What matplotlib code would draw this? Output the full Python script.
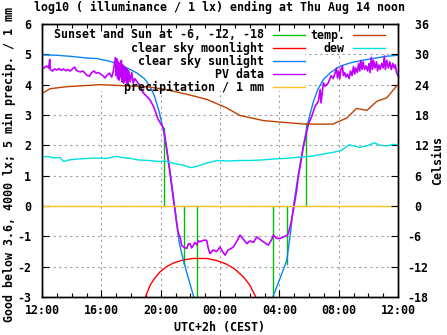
import matplotlib
matplotlib.use('Agg')
import matplotlib.pyplot as plt
from matplotlib.lines import Line2D
from matplotlib.patches import Rectangle
from matplotlib.ticker import FixedLocator, MultipleLocator

W, H = 447, 335
MONO = dict(family='DejaVu Sans Mono', weight='bold', size=8.4)

# hours after Wednesday noon
hour_ticks = [0, 4, 8, 12, 16, 20, 24]
hour_labels = ['12:00', '16:00', '20:00', '00:00', '04:00', '08:00', '12:00']

# clear sky sunlight, log10 lx
sun_h = [0, 1, 2, 3, 3.69, 4.5, 5.03, 5.7, 6.38, 6.9, 7.28, 7.6, 7.9, 8.18, 8.4,
         8.6, 8.86, 9.05, 9.26, 9.53, 9.85, 10.2, 10.3,
         15.5, 15.6, 16.0, 16.5, 16.75, 16.95, 17.3, 17.62, 17.95, 18.3, 18.6,
         18.97, 19.5, 20.1, 20.8, 21.67, 22.5, 23.3, 24]
sun_v = [4.98, 4.97, 4.93, 4.88, 4.86, 4.78, 4.70, 4.56, 4.39, 4.20, 3.95, 3.60,
         3.10, 2.52, 1.90, 1.25, 0.31, -0.45, -1.23, -1.79, -2.35, -2.95, -3.1,
         -3.1, -2.95, -2.45, -1.79, -0.9, 0.0, 1.1, 2.0, 2.8, 3.45, 3.85,
         4.17, 4.42, 4.61, 4.72, 4.81, 4.88, 4.94, 4.97]

# clear sky moonlight
moon_h = [6.95, 7.06, 7.3, 7.6, 7.96, 8.4, 8.86, 9.5, 10.2, 11.1, 11.8, 12.45,
          13.0, 13.58, 14.0, 14.36, 14.45]
moon_v = [-3.05, -2.89, -2.6, -2.38, -2.17, -2.0, -1.88, -1.78, -1.73, -1.73,
          -1.80, -1.92, -2.08, -2.34, -2.6, -2.95, -3.05]

# sunset and sun at -6, -12, -18 deg
twilight_h = [8.25, 9.6, 10.47, 15.6, 16.5, 17.78]
twilight_v = [2.57, -1.95, -3.5, -3.5, -1.9, 2.74]

# PV sensor
pv_h = [0.00, 0.15, 0.30, 0.45, 0.52, 0.56, 0.70, 0.85, 1.00, 1.15, 1.30, 1.45,
        1.60, 1.75, 1.90, 2.05, 2.20, 2.30, 2.45, 2.60, 2.75, 2.90, 3.05, 3.20,
        3.35, 3.50, 3.65, 3.80, 3.95, 4.10, 4.25, 4.40, 4.55, 4.70, 4.80,
        4.95, 5.00, 5.05, 5.10, 5.15, 5.20, 5.25, 5.30, 5.35, 5.40, 5.45, 5.50,
        5.55, 5.60, 5.65, 5.70, 5.75, 5.80, 5.85, 5.95, 6.05, 6.15, 6.25, 6.40,
        6.55, 6.83, 7.28, 7.51, 7.84, 8.18, 8.29, 8.41, 8.52, 8.63, 8.75, 8.86,
        8.97, 9.08, 9.19, 9.31, 9.42, 9.53, 9.76, 9.87, 9.98, 10.09, 10.2,
        10.31, 10.43, 10.54, 10.65, 10.86, 11.1, 11.21, 11.33, 11.53, 11.78,
        12.0, 12.14, 12.34, 12.54, 12.75, 12.9, 13.12, 13.35, 13.58, 13.81,
        14.03, 14.25, 14.48, 14.7, 14.92, 15.26, 15.49, 15.6, 15.83, 16.05,
        16.27, 16.5, 16.61, 16.79, 16.95, 17.17, 17.28, 17.4, 17.62, 17.73,
        17.96, 18.19, 18.41, 18.63, 18.75, 18.81, 18.97, 19.08, 19.3, 19.49,
        19.63, 19.76, 19.85, 19.92, 20.00, 20.08, 20.15, 20.25, 20.32, 20.40,
        20.50, 20.60, 20.70, 20.80, 20.90, 21.00, 21.08, 21.15, 21.25, 21.35,
        21.42, 21.50, 21.58, 21.65, 21.75, 21.85, 21.95, 22.05, 22.12, 22.20,
        22.28, 22.35, 22.45, 22.55, 22.62, 22.70, 22.80, 22.90, 23.00, 23.08,
        23.15, 23.25, 23.35, 23.45, 23.55, 23.65, 23.75, 23.82, 23.90, 24.00]
pv_v = [4.58, 4.55, 4.62, 4.55, 4.83, 4.50, 4.45, 4.52, 4.48, 4.53, 4.47, 4.52,
        4.46, 4.50, 4.45, 4.52, 4.58, 4.48, 4.44, 4.42, 4.45, 4.38, 4.30, 4.28,
        4.40, 4.45, 4.38, 4.40, 4.35, 4.30, 4.22, 4.32, 4.38, 4.25, 4.42,
        4.89, 4.30, 4.85, 4.20, 4.75, 4.15, 4.70, 4.25, 4.80, 4.10, 4.65, 4.05,
        4.60, 4.15, 4.55, 4.05, 4.50, 4.00, 4.45, 4.10, 4.40, 4.05, 4.20, 4.10,
        4.00, 3.73, 3.50, 3.29, 2.85, 2.57, 2.29, 1.85, 1.47, 1.08, 0.64, 0.20,
        -0.13, -0.57, -0.90, -1.02, -1.30, -1.35, -1.40, -1.25, -1.24, -1.38, -1.30,
        -1.20, -1.28, -1.15, -1.18, -1.13, -1.13, -1.40, -1.57, -1.45, -1.50,
        -1.35, -1.48, -1.62, -1.45, -1.40, -1.35, -1.18, -0.96, -1.10, -1.24,
        -1.15, -1.20, -1.02, -1.10, -1.18, -1.29, -1.10, -0.96, -1.07, -1.07,
        -1.02, -0.98, -0.90, -0.55, -0.13, 0.53, 0.97, 1.30, 1.96, 2.18,
        2.70, 2.96, 3.29, 3.45, 3.84, 3.40, 4.06, 3.95, 4.06, 4.30,
        4.20, 4.39, 4.55, 4.22, 4.45, 4.20, 4.50, 4.62, 4.30, 4.40,
        4.25, 4.35, 4.20, 4.45, 4.30, 4.60, 4.35, 4.55, 4.40, 4.70,
        4.45, 4.80, 4.50, 4.75, 4.50, 4.62, 4.45, 4.70, 4.40, 4.90,
        4.50, 4.80, 4.55, 4.75, 4.45, 4.65, 4.50, 4.70, 4.55, 4.95,
        4.50, 4.80, 4.55, 4.75, 4.50, 4.70, 4.55, 4.65, 4.40, 4.30]

# 5 min precipitation / 1 mm
precip_h = [0, 24]
precip_v = [0, 0]

# temperature and dew point, Celsius
temp_h = [0.0, 0.09, 0.54, 1.67, 3.91, 5.48, 7.06, 8.41, 9.76, 11.1, 12.45,
          13.35, 14.92, 16.05, 17.73, 19.6, 20.55, 21.2, 21.9, 22.57, 23.24,
          23.9, 24.0]
temp_c = [22.3, 22.4, 23.2, 23.6, 24.0, 23.8, 23.6, 23.0, 22.1, 21.1, 19.4,
          17.9, 16.9, 16.6, 16.2, 16.2, 17.4, 19.3, 18.9, 20.7, 21.4, 23.7, 24.0]
dew_h = [0.0, 0.4, 0.8, 1.2, 1.45, 1.8, 2.4, 3.0, 3.7, 4.3, 5.0, 5.4, 6.0, 6.5,
         7.2, 7.9, 8.3, 8.9, 9.5, 10.0, 10.4, 11.1, 11.8, 12.5, 13.3, 14.0,
         14.8, 15.6, 16.3, 17.1, 17.6, 18.3, 19.0, 19.6, 20.2, 20.7, 21.0,
         21.4, 21.9, 22.4, 22.8, 23.3, 23.7, 24.0]
dew_c = [9.7, 9.8, 9.5, 9.6, 8.8, 9.1, 9.3, 9.4, 9.5, 9.4, 9.8, 9.6, 9.4, 9.1,
         9.0, 8.8, 8.9, 8.4, 8.1, 7.6, 7.8, 8.5, 9.0, 8.9, 9.0, 9.0,
         9.1, 9.3, 9.4, 9.6, 9.7, 9.9, 10.3, 10.6, 11.0, 12.1, 11.9,
         11.6, 11.9, 12.5, 12.0, 11.9, 12.2, 12.1]

C_GREEN = '#00c000'
C_RED = '#ff0000'
C_BLUE = '#0a84f0'
C_PV = '#c000ff'
C_PRECIP = '#ffc020'
C_TEMP = '#c04000'
C_DEW = '#00e0e0'


def px_x(x):
    return x / W


def px_y(y):
    return 1 - y / H


fig = plt.figure(figsize=(W / 100, H / 100), dpi=100)
ax = fig.add_axes([42 / W, 1 - 297 / H, 356 / W, 273 / H])
ax.set_xlim(0, 24)
ax.set_ylim(-3, 6)

# dashed grid, hidden under the key
for h in hour_ticks[1:-1]:
    ax.axvline(h, color='#a0a0a0', lw=0.8, dashes=(2, 3), zorder=0)
for v in range(-2, 6):
    ax.axhline(v, color='#a0a0a0', lw=0.8, dashes=(2, 3), zorder=0)
ax.add_patch(Rectangle((0, (297 - 91) / 273), (305 - 42) / 356, 1, transform=ax.transAxes,
                       facecolor='white', edgecolor='none', zorder=0.5))
ax.add_patch(Rectangle(((305 - 42) / 356, (297 - 52) / 273), 1, 1, transform=ax.transAxes,
                       facecolor='white', edgecolor='none', zorder=0.5))

lw = 1.0
for h, v in zip(twilight_h, twilight_v):
    ax.plot([h, h], [0, v], color=C_GREEN, lw=lw, zorder=2)
ax.plot(moon_h, moon_v, color=C_RED, lw=lw, zorder=2)
ax.plot(sun_h, sun_v, color=C_BLUE, lw=lw, zorder=2)
ax.plot(pv_h, pv_v, color=C_PV, lw=1.2, zorder=2)
ax.plot(precip_h, precip_v, color=C_PRECIP, lw=lw, zorder=2)

ax2 = ax.twinx()
ax2.set_ylim(-18, 36)
ax2.plot(temp_h, temp_c, color=C_TEMP, lw=lw)
ax2.plot(dew_h, dew_c, color=C_DEW, lw=lw)

# axes and ticks
ax.xaxis.set_major_locator(FixedLocator(hour_ticks))
ax.xaxis.set_minor_locator(MultipleLocator(1))
ax.set_xticklabels(hour_labels, fontdict=MONO)
ax.set_yticks(range(-3, 7))
ax.set_yticklabels([str(v) for v in range(-3, 7)], fontdict=MONO)
ax.tick_params(axis='x', which='both', direction='in', top=True, pad=5)
ax.tick_params(axis='x', which='major', length=5, width=0.8)
ax.tick_params(axis='x', which='minor', length=3, width=0.8)
ax.tick_params(axis='y', direction='in', length=5, width=0.8, right=False, pad=8)
t2 = list(range(-18, 37, 6))
ax2.set_yticks(t2)
ax2.set_yticklabels([('%d' % t) if t < 0 else (' %d' % t) for t in t2], fontdict=MONO)
ax2.tick_params(axis='y', direction='in', length=5, width=0.8, pad=7)
for lab in ax2.get_yticklabels():
    lab.set_horizontalalignment('left')
for a in (ax, ax2):
    for s in a.spines.values():
        s.set_linewidth(1.0)
        s.set_color('black')

# titles and axis labels
fig.text(px_x(220), px_y(7), 'log10 ( illuminance / 1 lx) ending at Thu Aug 14 noon',
         ha='center', va='center', **MONO)
fig.text(px_x(220), px_y(328), 'UTC+2h (CEST)', ha='center', va='center', **MONO)
fig.text(px_x(9), px_y(164), 'Good below 3.6, 4000 lx; 5 min precip. / 1 mm',
         ha='center', va='center', rotation=90, **MONO)
fig.text(px_x(438), px_y(160), 'Celsius', ha='center', va='center', rotation=90, **MONO)

# key, two columns
key_col1 = [('Sunset and Sun at -6, -12, -18', C_GREEN),
            ('clear sky moonlight', C_RED),
            ('clear sky sunlight', C_BLUE),
            ('PV data', C_PV),
            ('precipitation / 1 mm', C_PRECIP)]
key_col2 = [('temp.', C_TEMP), ('dew', C_DEW)]
for entries, x_text, x0, x1 in [(key_col1, 264, 273, 305), (key_col2, 345, 353, 385)]:
    for i, (label, color) in enumerate(entries):
        y = 35 + 13 * i
        fig.text(px_x(x_text), px_y(y), label, ha='right', va='center', zorder=10, **MONO)
        fig.add_artist(Line2D([px_x(x0), px_x(x1)], [px_y(y), px_y(y)],
                              color=color, lw=1.0, transform=fig.transFigure, zorder=10))

fig.savefig('out.png', dpi=100)
